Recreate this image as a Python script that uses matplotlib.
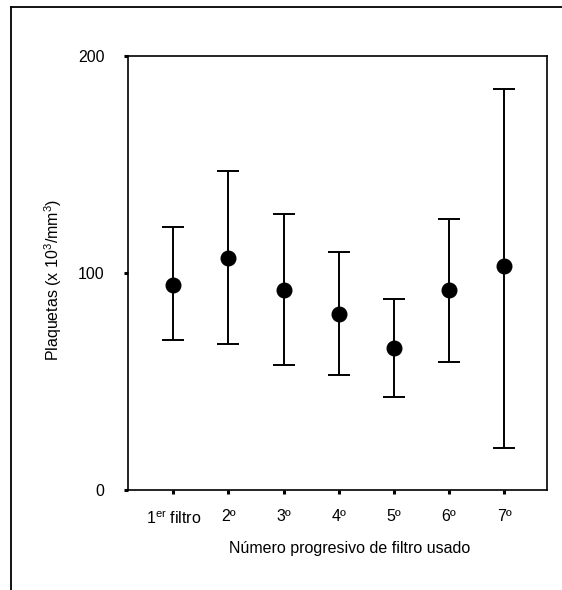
import matplotlib
matplotlib.use("Agg")
import matplotlib.pyplot as plt
from matplotlib.lines import Line2D

# ── Data ──────────────────────────────────────────────────────────────────────
filters = ["1$^{er}$ filtro", "2º", "3º", "4º", "5º", "6º", "7º"]
means = [94.5, 107, 92, 81, 65.5, 92, 103]
upper = [121, 147, 127, 109.5, 88, 125, 185]
lower = [69, 67.5, 57.5, 53, 43, 59, 19.5]

plt.rcParams["font.family"] = ["Liberation Sans", "DejaVu Sans"]
plt.rcParams["mathtext.default"] = "regular"

fig = plt.figure(figsize=(5.62, 5.90), dpi=100)
ax = fig.add_axes([0.2278, 0.1695, 0.745, 0.7356])

xs = list(range(1, len(filters) + 1))
err_lo = [m - lo for m, lo in zip(means, lower)]
err_hi = [hi - m for m, hi in zip(means, upper)]

ax.errorbar(
    xs, means,
    yerr=[err_lo, err_hi],
    fmt="o",
    color="black",
    markersize=10.5,
    elinewidth=1.4,
    capsize=8,
    capthick=1.4,
)

ax.set_xlim(0.18, 7.77)
ax.set_ylim(0, 200)
ax.set_yticks([0, 100, 200])
ax.set_xticks(xs)
ax.set_xticklabels(filters)

for sp in ax.spines.values():
    sp.set_linewidth(1.2)

ax.tick_params(axis="both", direction="out", length=3, width=2.2, labelsize=11.5)
ax.tick_params(axis="y", pad=14)
ax.tick_params(axis="x", pad=11)

ax.set_ylabel("Plaquetas (x 10$^3$/mm$^3$)", fontsize=11.5)
ax.set_xlabel("Número progresivo de filtro usado", fontsize=11.5)
ax.yaxis.set_label_coords(-(128 - 64) / 418.7, (490 - 280) / 434)
ax.xaxis.set_label_coords((350 - 128) / 418.7, -(541 - 490) / 434)

# outer frame of the original figure panel (only top and left visible)
fig.add_artist(Line2D([11 / 562, 11 / 562], [0, 1 - 7 / 590],
                      transform=fig.transFigure, color="black", linewidth=1.3))
fig.add_artist(Line2D([11 / 562, 1], [1 - 7 / 590, 1 - 7 / 590],
                      transform=fig.transFigure, color="black", linewidth=1.3))

fig.savefig("out.png", dpi=100)
plt.close(fig)
